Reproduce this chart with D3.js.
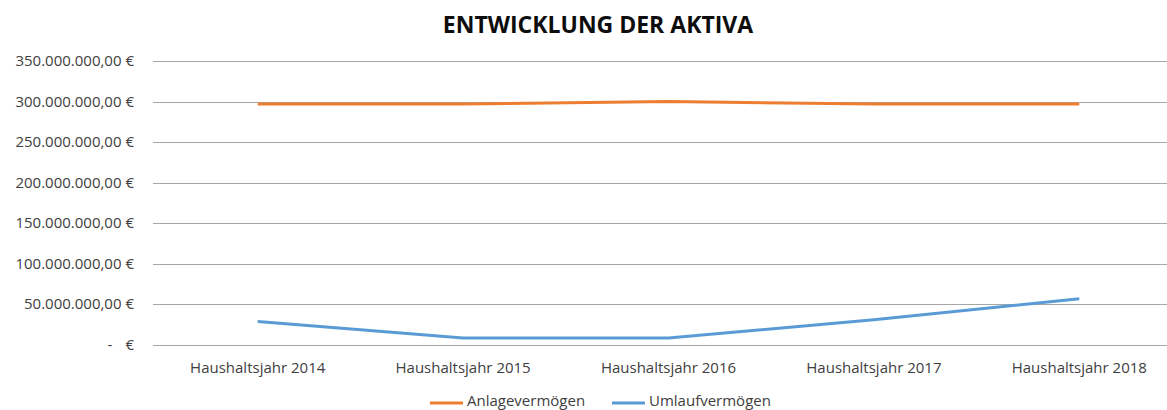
<!DOCTYPE html>
<html>
<head>
<meta charset="utf-8">
<script src="https://cdn.jsdelivr.net/npm/d3@7"></script>
<style>
  body { margin: 0; background: #fff; }
  svg { display: block; font-family: "Open Sans", "Liberation Sans", sans-serif; }
</style>
</head>
<body>
<svg id="chart" width="1167" height="410"></svg>
<script>
const years = ["Haushaltsjahr 2014", "Haushaltsjahr 2015", "Haushaltsjahr 2016", "Haushaltsjahr 2017", "Haushaltsjahr 2018"];
const anlage = [297000000, 297000000, 300000000, 297000000, 297000000];
const umlauf = [29000000, 8500000, 8500000, 31000000, 57000000];
const yTicks = [0, 50000000, 100000000, 150000000, 200000000, 250000000, 300000000, 350000000];
const seriesNames = ["Anlagevermögen", "Umlaufvermögen"];
const colors = ["#ED7D31", "#5B9BD5"];

const svg = d3.select("#chart");
const plotLeft = 155, plotRight = 1182, plotTop = 61, plotBottom = 345;

const x = d3.scaleBand().domain(years).range([plotLeft, plotRight]);
const y = d3.scaleLinear().domain([0, 350000000]).range([plotBottom, plotTop]);

// title
svg.append("text")
  .attr("x", 598).attr("y", 33)
  .attr("text-anchor", "middle")
  .attr("font-size", 23).attr("font-weight", "bold")
  .attr("fill", "#0d0d0d")
  .text("ENTWICKLUNG DER AKTIVA");

// gridlines
svg.append("g").selectAll("line")
  .data(yTicks).enter().append("line")
    .attr("x1", 153).attr("x2", 1167)
    .attr("y1", d => Math.round(y(d)) + 0.5)
    .attr("y2", d => Math.round(y(d)) + 0.5)
    .attr("stroke", "#a6a6a6").attr("stroke-width", 1);

// y labels
const fmt = d3.formatLocale({ decimal: ",", thousands: ".", grouping: [3], currency: ["", " €"] });
const euro = fmt.format(",.2f");
const yl = svg.append("g").attr("font-size", 15).attr("fill", "#404040");
yTicks.forEach(t => {
  if (t === 0) {
    yl.append("text").attr("x", 110).attr("y", y(t) + 5).attr("text-anchor", "middle").text("-");
    yl.append("text").attr("x", 134).attr("y", y(t) + 5).attr("text-anchor", "end").text("€");
  } else {
    yl.append("text").attr("x", 134).attr("y", y(t) + 5).attr("text-anchor", "end").text(euro(t) + " €");
  }
});

// x labels
svg.append("g").attr("font-size", 15).attr("fill", "#404040")
  .selectAll("text").data(years).enter().append("text")
    .attr("x", d => x(d) + x.bandwidth() / 2)
    .attr("y", 373)
    .attr("text-anchor", "middle")
    .text(d => d);

// lines
const line = d3.line()
  .x((d, i) => x(years[i]) + x.bandwidth() / 2)
  .y(d => y(d));

[anlage, umlauf].forEach((s, i) => {
  svg.append("path")
    .attr("d", line(s))
    .attr("fill", "none")
    .attr("stroke", colors[i])
    .attr("stroke-width", 3)
    .attr("stroke-linejoin", "round");
});

// legend
const leg = svg.append("g").attr("font-size", 15).attr("fill", "#404040");
const legX = [430, 612];
seriesNames.forEach((n, i) => {
  leg.append("line")
    .attr("x1", legX[i]).attr("x2", legX[i] + 33)
    .attr("y1", 403).attr("y2", 403)
    .attr("stroke", colors[i]).attr("stroke-width", 3);
  leg.append("text")
    .attr("x", legX[i] + 37).attr("y", 406)
    .text(n);
});
</script>
</body>
</html>
